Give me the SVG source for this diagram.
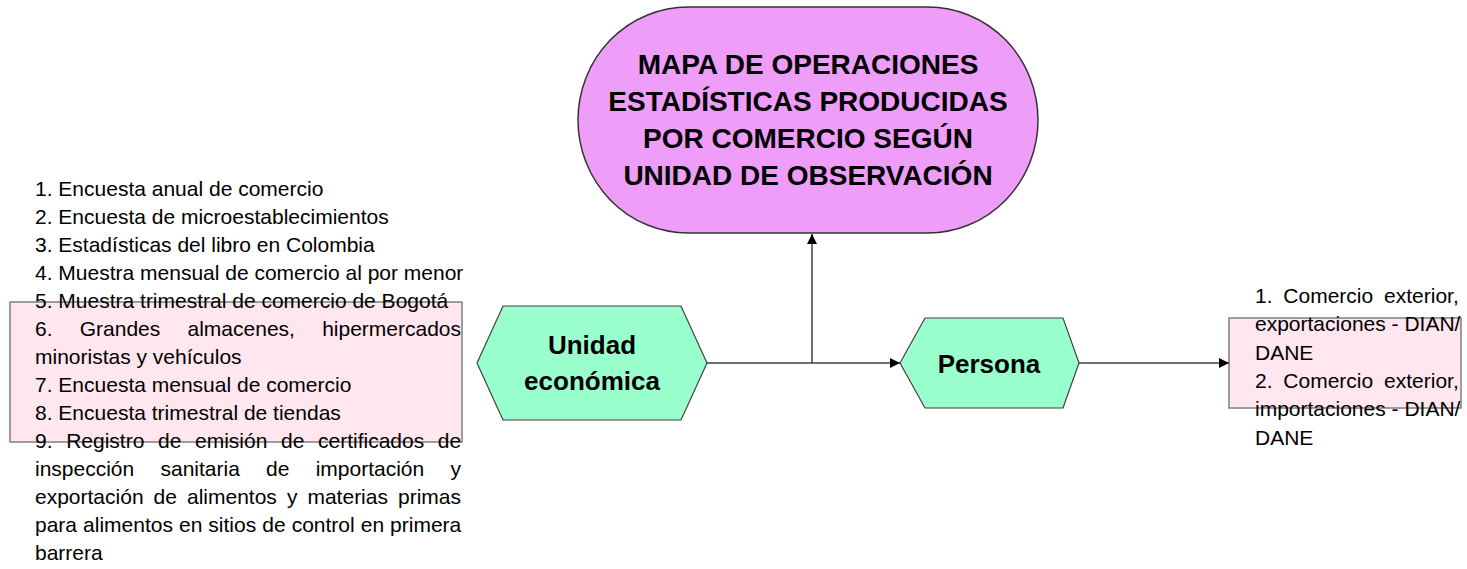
<svg xmlns="http://www.w3.org/2000/svg" width="1467" height="569" viewBox="0 0 1467 569">
<style>
.list{font-family:"Liberation Sans",Arial,sans-serif;font-size:21px;fill:#000}
.hx{fill:#99ffcc;stroke:#404040;stroke-width:1.2}
.hxt{font-family:"Liberation Sans",Arial,sans-serif;font-size:26px;font-weight:bold;fill:#000;text-anchor:middle}
.ttl{font-family:"Liberation Sans",Arial,sans-serif;font-size:28px;font-weight:bold;fill:#000;text-anchor:middle}
.box{fill:#ffe6ef;stroke:#7f7f7f;stroke-width:1.5}
.conn{stroke:#404040;stroke-width:1.5;fill:none}
</style>
<defs>
<marker id="arr" viewBox="0 0 10 10" refX="10" refY="5" markerWidth="10" markerHeight="10" markerUnits="userSpaceOnUse" orient="auto">
<path d="M0,0 L10,5 L0,10 z" fill="#000"/>
</marker>
</defs>

<g id="titulo">
<rect x="578" y="7" width="460" height="226" rx="110" ry="113" fill="#ee9df8" stroke="#333" stroke-width="1.5"/>
<text class="ttl" x="808" y="74">MAPA DE OPERACIONES</text>
<text class="ttl" x="808" y="111">ESTADÍSTICAS PRODUCIDAS</text>
<text class="ttl" x="808" y="148">POR COMERCIO SEGÚN</text>
<text class="ttl" x="808" y="185">UNIDAD DE OBSERVACIÓN</text>
</g>

<g id="lista-unidad">
<rect class="box" x="10" y="302" width="452" height="140"/>
<text class="list" x="35" y="195.5">1. Encuesta anual de comercio</text>
<text class="list" x="35" y="223.5">2. Encuesta de microestablecimientos</text>
<text class="list" x="35" y="251.5">3. Estadísticas del libro en Colombia</text>
<text class="list" x="35" y="279.5">4. Muestra mensual de comercio al por menor</text>
<text class="list" x="35" y="307.5">5. Muestra trimestral de comercio de Bogotá</text>
<text class="list" x="35" y="335.5" word-spacing="21.4">6. Grandes almacenes, hipermercados</text>
<text class="list" x="35" y="363.5">minoristas y vehículos</text>
<text class="list" x="35" y="391.5">7. Encuesta mensual de comercio</text>
<text class="list" x="35" y="419.5">8. Encuesta trimestral de tiendas</text>
<text class="list" x="35" y="447.5" word-spacing="7.8">9. Registro de emisión de certificados de</text>
<text class="list" x="35" y="475.5" word-spacing="20.4">inspección sanitaria de importación y</text>
<text class="list" x="35" y="503.5" word-spacing="4.2">exportación de alimentos y materias primas</text>
<text class="list" x="35" y="531.5" word-spacing="0.2">para alimentos en sitios de control en primera</text>
<text class="list" x="35" y="559.5">barrera</text>
</g>

<g id="unidad-economica">
<polygon class="hx" points="477,363 503,306 681,306 707,363 681,420 503,420"/>
<text class="hxt" x="592" y="354">Unidad</text>
<text class="hxt" x="592" y="390">económica</text>
</g>

<g id="persona">
<polygon class="hx" points="900,363 925,318 1063,318 1079,363 1063,408 925,408"/>
<text class="hxt" x="989" y="373">Persona</text>
</g>

<g id="lista-persona">
<rect class="box" x="1229" y="318" width="232" height="90"/>
<text class="list" x="1255" y="302.5" word-spacing="5">1. Comercio exterior,</text>
<text class="list" x="1255" y="331">exportaciones - DIAN/</text>
<text class="list" x="1255" y="359.5">DANE</text>
<text class="list" x="1255" y="388" word-spacing="5">2. Comercio exterior,</text>
<text class="list" x="1255" y="416">importaciones - DIAN/</text>
<text class="list" x="1255" y="444.5">DANE</text>
</g>

<g id="conectores">
<line class="conn" x1="707" y1="363" x2="900" y2="363" marker-end="url(#arr)"/>
<line class="conn" x1="812" y1="363" x2="812" y2="234" marker-end="url(#arr)"/>
<line class="conn" x1="1079" y1="363" x2="1229" y2="363" marker-end="url(#arr)"/>
</g>
</svg>
